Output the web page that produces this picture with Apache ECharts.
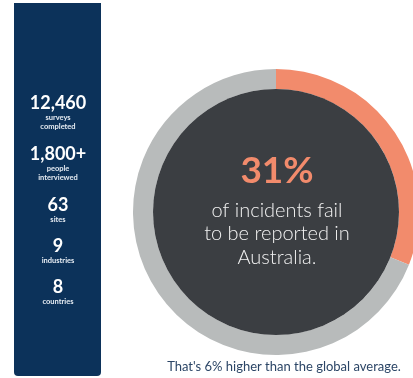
<!DOCTYPE html>
<html>
<head>
<meta charset="utf-8">
<script src="https://cdn.jsdelivr.net/npm/echarts@6/dist/echarts.min.js"></script>
<style>
  html, body { margin: 0; padding: 0; background: #ffffff; }
  #chart { width: 413px; height: 378px; }
</style>
</head>
<body>
<div id="chart"></div>
<script>
// Share of incidents that go unreported vs. reported
const shareNames = ['Not reported', 'Reported'];
const shareValues = [31, 69];

// Study stats shown in the side panel
const statValues = ['12,460', '1,800+', '63', '9', '8'];
const statLabels = [['surveys', 'completed'], ['people', 'interviewed'], ['sites'], ['industries'], ['countries']];

const headline = ['of incidents fail', 'to be reported in', 'Australia.'];
const footnote = "That's 6% higher than the global average.";

const NAVY = '#0c325a';
const SALMON = '#f28b6c';
const RING_GREY = '#b8bbbb';
const CORE = '#3b3e42';
const FONT = 'Lato, "Open Sans", sans-serif';

const chart = echarts.init(document.getElementById('chart'), null, { renderer: 'canvas' });

// Side panel: numbers with their captions, stacked vertically
const panelX = 58;
const statY = [103, 154, 205, 246, 287];
const panelText = [];
statValues.forEach((v, i) => {
  panelText.push({
    type: 'text', x: panelX, y: statY[i],
    style: { text: v, fill: '#ffffff', font: 'bold 18px ' + FONT, textAlign: 'center', textVerticalAlign: 'middle' }
  });
  statLabels[i].forEach((t, j) => {
    panelText.push({
      type: 'text', x: panelX, y: statY[i] + 15 + j * 8.5,
      style: { text: t, fill: '#e6ecf3', font: 'bold 7.5px ' + FONT, textAlign: 'center', textVerticalAlign: 'middle' }
    });
  });
});

const center = [276, 212];

chart.setOption({
  animation: false,
  backgroundColor: '#ffffff',
  graphic: [
    {
      type: 'rect', z: 0,
      shape: { x: 14, y: 3, width: 87, height: 373, r: [0, 0, 4, 4] },
      style: { fill: NAVY }
    },
    ...panelText,
    {
      type: 'text', z: 10, x: center[0] + 1, y: 171,
      style: { text: shareValues[0] + '%', fill: SALMON, font: 'bold 37px ' + FONT, textAlign: 'center', textVerticalAlign: 'middle' }
    },
    {
      type: 'text', z: 10, x: center[0] + 1, y: 234,
      style: { text: headline.join('\n'), fill: '#f2f2f2', font: '300 20px ' + FONT, lineHeight: 23.5, textAlign: 'center', textVerticalAlign: 'middle' }
    },
    {
      type: 'text', z: 10, x: 284, y: 367,
      style: { text: footnote, fill: '#2b4566', font: '13px ' + FONT, textAlign: 'center', textVerticalAlign: 'middle' }
    }
  ],
  series: [
    {
      type: 'pie',
      center: center,
      radius: [123, 143],
      startAngle: 90,
      clockwise: true,
      silent: true,
      label: { show: false },
      labelLine: { show: false },
      itemStyle: { borderWidth: 0 },
      data: shareNames.map((n, i) => ({
        name: n, value: shareValues[i],
        itemStyle: { color: i === 0 ? SALMON : RING_GREY }
      }))
    },
    {
      type: 'pie',
      center: center,
      radius: [0, 123],
      silent: true,
      label: { show: false },
      labelLine: { show: false },
      data: [{ value: 1, name: 'core', itemStyle: { color: CORE } }]
    }
  ]
});
</script>
</body>
</html>
